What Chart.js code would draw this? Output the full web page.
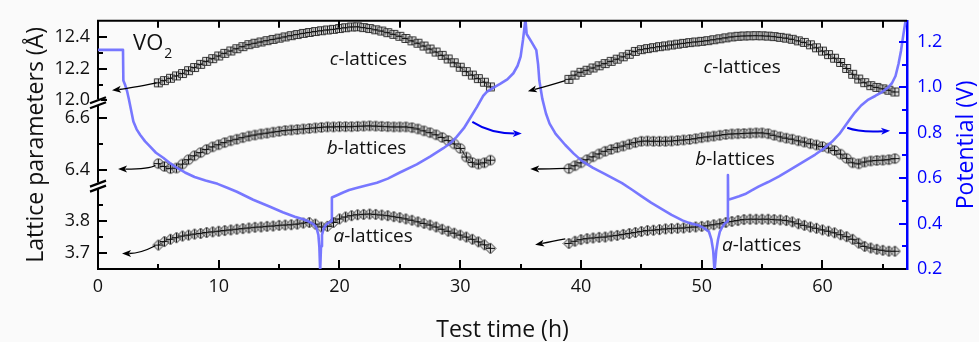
<!DOCTYPE html>
<html>
<head>
<meta charset="utf-8">
<script src="https://cdn.jsdelivr.net/npm/chart.js@4.4.1/dist/chart.umd.min.js"></script>
<style>
  html, body { margin: 0; padding: 0; background: #fafafa; }
</style>
</head>
<body>
<canvas id="lattice-chart" width="979" height="342"></canvas>
<script>
const BG = '#fafafa';

// measurement times (h) of the XRD patterns, one list per cycle
const cycle1Times = [
  5.0, 5.5, 6.0, 6.5, 7.0, 7.5, 8.0, 8.5, 9.0, 9.5,
  10.0, 10.5, 11.0, 11.5, 12.0, 12.5, 13.0, 13.5, 14.0, 14.5,
  15.0, 15.5, 16.0, 16.5, 17.0, 17.5, 18.0, 18.5, 19.0, 19.5,
  20.0, 20.5, 21.0, 21.5, 22.0, 22.5, 23.0, 23.5, 24.0, 24.5,
  25.0, 25.5, 26.0, 26.5, 27.0, 27.5, 28.0, 28.5, 29.0, 29.5,
  30.0, 30.5, 31.0, 31.5, 32.0, 32.5
];
const cycle2Times = [
  39.0, 39.5, 40.0, 40.5, 41.0, 41.5, 42.0, 42.5, 43.0, 43.5,
  44.0, 44.5, 45.0, 45.5, 46.0, 46.5, 47.0, 47.5, 48.0, 48.5,
  49.0, 49.5, 50.0, 50.5, 51.0, 51.5, 52.0, 52.5, 53.0, 53.5,
  54.0, 54.5, 55.0, 55.5, 56.0, 56.5, 57.0, 57.5, 58.0, 58.5,
  59.0, 59.5, 60.0, 60.5, 61.0, 61.5, 62.0, 62.5, 63.0, 63.5,
  64.0, 64.5, 65.0, 65.5, 66.0
];

// lattice parameters (Angstrom)
const cLattice1 = [
  12.111, 12.125, 12.140, 12.155, 12.170, 12.188, 12.208, 12.228, 12.247, 12.264,
  12.281, 12.298, 12.313, 12.327, 12.340, 12.353, 12.362, 12.370, 12.378, 12.386,
  12.394, 12.402, 12.410, 12.417, 12.424, 12.430, 12.436, 12.441, 12.446, 12.450,
  12.455, 12.460, 12.465, 12.466, 12.461, 12.455, 12.447, 12.439, 12.429, 12.418,
  12.406, 12.392, 12.377, 12.362, 12.344, 12.325, 12.306, 12.285, 12.262, 12.238,
  12.210, 12.182, 12.160, 12.138, 12.115, 12.085
];
const bLattice1 = [
  6.425, 6.414, 6.406, 6.408, 6.423, 6.440, 6.455, 6.467, 6.479, 6.489,
  6.497, 6.505, 6.512, 6.518, 6.524, 6.530, 6.534, 6.538, 6.541, 6.545,
  6.548, 6.551, 6.553, 6.555, 6.557, 6.559, 6.561, 6.563, 6.565, 6.565,
  6.566, 6.566, 6.566, 6.567, 6.568, 6.569, 6.568, 6.567, 6.566, 6.565,
  6.565, 6.565, 6.562, 6.557, 6.550, 6.543, 6.535, 6.525, 6.513, 6.500,
  6.483, 6.450, 6.429, 6.423, 6.428, 6.438
];
const aLattice1 = [
  3.725, 3.736, 3.743, 3.748, 3.753, 3.756, 3.759, 3.761, 3.764, 3.766,
  3.768, 3.770, 3.772, 3.774, 3.776, 3.778, 3.780, 3.781, 3.783, 3.784,
  3.786, 3.787, 3.788, 3.790, 3.793, 3.795, 3.790, 3.781, 3.783, 3.795,
  3.806, 3.812, 3.816, 3.819, 3.820, 3.821, 3.820, 3.818, 3.816, 3.813,
  3.810, 3.806, 3.802, 3.797, 3.792, 3.787, 3.781, 3.774, 3.768, 3.762,
  3.756, 3.750, 3.743, 3.735, 3.726, 3.715
];
const cLattice2 = [
  12.133, 12.160, 12.178, 12.191, 12.205, 12.219, 12.233, 12.247, 12.261, 12.276,
  12.292, 12.310, 12.321, 12.328, 12.334, 12.340, 12.345, 12.351, 12.356, 12.361,
  12.366, 12.370, 12.374, 12.378, 12.384, 12.390, 12.396, 12.402, 12.406, 12.408,
  12.409, 12.410, 12.409, 12.407, 12.404, 12.399, 12.394, 12.387, 12.377, 12.367,
  12.352, 12.333, 12.312, 12.290, 12.267, 12.240, 12.202, 12.165, 12.135, 12.112,
  12.093, 12.082, 12.073, 12.064, 12.053
];
const bLattice2 = [
  6.406, 6.417, 6.428, 6.440, 6.451, 6.462, 6.472, 6.479, 6.486, 6.492,
  6.499, 6.505, 6.510, 6.511, 6.510, 6.510, 6.510, 6.511, 6.513, 6.515,
  6.517, 6.520, 6.524, 6.527, 6.530, 6.533, 6.536, 6.538, 6.539, 6.540,
  6.541, 6.542, 6.542, 6.539, 6.533, 6.527, 6.522, 6.518, 6.512, 6.507,
  6.501, 6.496, 6.490, 6.484, 6.475, 6.461, 6.445, 6.428, 6.424, 6.431,
  6.435, 6.437, 6.438, 6.440, 6.444
];
const aLattice2 = [
  3.730, 3.737, 3.742, 3.745, 3.747, 3.749, 3.750, 3.753, 3.755, 3.758,
  3.761, 3.764, 3.767, 3.770, 3.771, 3.773, 3.775, 3.776, 3.777, 3.778,
  3.780, 3.781, 3.783, 3.785, 3.788, 3.791, 3.795, 3.798, 3.801, 3.804,
  3.805, 3.805, 3.805, 3.805, 3.804, 3.803, 3.801, 3.797, 3.791, 3.786,
  3.781, 3.777, 3.772, 3.768, 3.763, 3.757, 3.751, 3.743, 3.731, 3.721,
  3.716, 3.712, 3.709, 3.706, 3.706
];

// cell potential (V) vs time (h)
const potentialTime = [
  0, 2.07, 2.1, 2.25, 2.4, 2.55, 2.7, 2.93, 3.2, 3.5,
  3.9, 4.3, 4.8, 5.4, 6.0, 6.5, 7.2, 8.0, 8.9, 9.9,
  10.7, 11.5, 12.85, 14.2, 15.3, 16.3, 17.0, 17.5, 17.9, 18.1,
  18.25, 18.33, 18.4, 18.47, 18.55, 18.7, 18.9, 19.1, 19.35, 19.37,
  19.8, 20.3, 20.8, 21.4, 22.2, 23.1, 24.0, 25.0, 26.4, 27.5,
  28.6, 29.2, 29.7, 30.3, 30.8, 31.4, 31.9, 32.2, 32.5, 32.9,
  33.3, 33.9, 34.4, 34.75, 35.0, 35.2, 35.4, 35.5, 35.9, 36.3,
  36.45, 36.55, 36.8, 37.1, 37.4, 37.9, 38.7, 39.4, 40.1, 41.0,
  42.0, 42.7, 43.4, 44.2, 45.0, 45.8, 46.7, 47.5, 48.4, 49.0,
  49.7, 50.2, 50.6, 50.8, 50.95, 51.06, 51.2, 51.35, 51.5, 51.7,
  51.9, 52.15, 52.17, 52.19, 52.6, 53.1, 53.6, 54.1, 54.7, 55.5,
  56.4, 57.2, 58.3, 59.4, 60.1, 60.8, 61.4, 61.9, 62.3, 62.7,
  63.2, 63.8, 64.4, 64.9, 65.4, 65.75, 66.05, 66.3, 66.5, 66.7,
  66.9
];
const potentialVolts = [
  1.165, 1.165, 1.03, 1.01, 0.985, 0.95, 0.91, 0.85, 0.815, 0.79,
  0.762, 0.74, 0.712, 0.69, 0.665, 0.647, 0.625, 0.605, 0.59, 0.575,
  0.558, 0.54, 0.505, 0.475, 0.45, 0.43, 0.419, 0.408, 0.395, 0.38,
  0.35, 0.30, 0.19, 0.30, 0.35, 0.38, 0.395, 0.404, 0.41, 0.515,
  0.525, 0.537, 0.548, 0.557, 0.568, 0.58, 0.598, 0.625, 0.661, 0.695,
  0.732, 0.755, 0.782, 0.82, 0.863, 0.915, 0.962, 0.98, 0.99, 1.003,
  1.015, 1.035, 1.062, 1.095, 1.135, 1.21, 1.30, 1.235, 1.2, 1.164,
  1.10, 1.03, 0.949, 0.885, 0.84, 0.795, 0.746, 0.708, 0.675, 0.645,
  0.618, 0.598, 0.578, 0.55, 0.521, 0.492, 0.464, 0.438, 0.414, 0.402,
  0.393, 0.38, 0.364, 0.33, 0.28, 0.19, 0.28, 0.33, 0.364, 0.385,
  0.40, 0.41, 0.614, 0.505, 0.512, 0.52, 0.53, 0.545, 0.563, 0.583,
  0.608, 0.633, 0.668, 0.704, 0.73, 0.761, 0.795, 0.832, 0.862, 0.890,
  0.92, 0.946, 0.963, 0.978, 0.998, 1.018, 1.05, 1.104, 1.16, 1.232,
  1.30
];

// tick values
const xMajorTicks = [0, 10, 20, 30, 40, 50, 60];
const xMinorTicks = [5, 15, 25, 35, 45, 55, 65];
const cTicks = [12.0, 12.2, 12.4];
const cMinorTicks = [12.1, 12.3];
const bTicks = [6.4, 6.6];
const bMinorTicks = [6.5];
const aTicks = [3.7, 3.8];
const aMinorTicks = [3.75, 3.85];
const vTicks = [0.2, 0.4, 0.6, 0.8, 1.0, 1.2];
const vMinorTicks = [0.3, 0.5, 0.7, 0.9, 1.1];

// annotations, in data units of the given axis
const arrows = [
  {axis: 'yc', from: [4.85, 12.11], ctrl: [2.65, 12.076], to: [1.16, 12.064], color: '#000', width: 1.3},
  {axis: 'yb', from: [4.75, 6.419], ctrl: [4.3, 6.404], to: [1.66, 6.404], color: '#000', width: 1.3},
  {axis: 'ya', from: [4.75, 3.723], ctrl: [3.5, 3.699], to: [1.99, 3.699], color: '#000', width: 1.3},
  {axis: 'yc', from: [38.7, 12.125], ctrl: [37.2, 12.09], to: [35.6, 12.058], color: '#000', width: 1.3},
  {axis: 'yb', from: [38.7, 6.407], ctrl: [37.2, 6.405], to: [35.8, 6.404], color: '#000', width: 1.3},
  {axis: 'ya', from: [38.7, 3.744], ctrl: [37.5, 3.735], to: [36.2, 3.726], color: '#000', width: 1.3},
  {axis: 'yV', from: [31.0, 0.848], ctrl: [32.5, 0.797], to: [35.1, 0.797], color: '#0000ee', width: 2},
  {axis: 'yV', from: [62.05, 0.822], ctrl: [63.1, 0.801], to: [65.6, 0.809], color: '#0000ee', width: 2}
];
const notes = [
  {axis: 'yc', x: 19.2, y: 12.223, lead: 'c', rest: '-lattices'},
  {axis: 'yb', x: 18.95, y: 6.460, lead: 'b', rest: '-lattices'},
  {axis: 'ya', x: 19.5, y: 3.735, lead: 'a', rest: '-lattices'},
  {axis: 'yc', x: 50.15, y: 12.176, lead: 'c', rest: '-lattices'},
  {axis: 'yb', x: 49.46, y: 6.420, lead: 'b', rest: '-lattices'},
  {axis: 'ya', x: 51.67, y: 3.708, lead: 'a', rest: '-lattices'}
];

function series(times, values) {
  return times.map((t, i) => ({x: t, y: values[i]}));
}

function marker(kind) {
  const c = document.createElement('canvas');
  c.width = 13; c.height = 13;
  const g = c.getContext('2d');
  g.lineWidth = 1;
  g.strokeStyle = '#383838';
  g.fillStyle = 'rgba(185,185,185,0.5)';
  g.beginPath();
  if (kind === 'square') {
    g.rect(2.5, 2.5, 8, 8);
  } else if (kind === 'circle') {
    g.arc(6.5, 6.5, 4.7, 0, Math.PI * 2);
  } else {
    g.moveTo(6.5, 1); g.lineTo(12, 6.5); g.lineTo(6.5, 12); g.lineTo(1, 6.5); g.closePath();
  }
  g.fill();
  g.stroke();
  g.strokeStyle = '#111';
  g.beginPath();
  const r = kind === 'square' ? 4 : 4.5;
  g.moveTo(6.5, 6.5 - r); g.lineTo(6.5, 6.5 + r);
  g.moveTo(6.5 - r, 6.5); g.lineTo(6.5 + r, 6.5);
  g.stroke();
  return c;
}

const squareMark = marker('square');
const circleMark = marker('circle');
const diamondMark = marker('diamond');

function latticeSet(times, values, axis, mark) {
  return {
    data: series(times, values),
    yAxisID: axis,
    borderColor: '#000',
    borderWidth: 1.2,
    tension: 0.4,
    pointStyle: mark,
    pointRadius: 4,
    order: 2
  };
}

const tickFont = {family: 'Open Sans', size: 18};

function leftAxis(min, max, ticks, weight, stackWeight) {
  return {
    type: 'linear', position: 'left', stack: 'lattice', stackWeight: stackWeight, weight: weight,
    min: min, max: max,
    afterBuildTicks: s => { s.ticks = ticks.map(v => ({value: v})); },
    afterFit: s => { s.width = 98; },
    grid: {display: false, drawTicks: false},
    border: {display: true, color: '#000', width: 2},
    ticks: {font: tickFont, color: '#111', padding: 8, callback: v => v.toFixed(1)}
  };
}

const decor = {
  id: 'decor',
  afterDatasetsDraw(chart) {
    const {ctx, chartArea: area, scales} = chart;
    const x = scales.x;
    ctx.save();

    // top frame
    ctx.strokeStyle = '#000';
    ctx.lineWidth = 2;
    ctx.beginPath();
    ctx.moveTo(area.left - 1, area.top);
    ctx.lineTo(area.right, area.top);
    ctx.stroke();

    // inward tick marks
    const mark = (x1, y1, x2, y2) => { ctx.beginPath(); ctx.moveTo(x1, y1); ctx.lineTo(x2, y2); ctx.stroke(); };
    ctx.strokeStyle = '#000';
    xMajorTicks.concat(xMinorTicks).forEach(v => {
      const p = Math.round(x.getPixelForValue(v));
      if (p <= area.left + 1) return;
      const len = xMajorTicks.includes(v) ? 9 : 5;
      mark(p, area.bottom, p, area.bottom - len);
      mark(p, area.top, p, area.top + 7);
    });
    [[scales.yc, cTicks, cMinorTicks], [scales.yb, bTicks, bMinorTicks], [scales.ya, aTicks, aMinorTicks]]
      .forEach(([s, major, minor]) => {
        major.forEach(v => { const p = Math.round(s.getPixelForValue(v)); mark(area.left, p, area.left + 9, p); });
        minor.forEach(v => { const p = Math.round(s.getPixelForValue(v)); mark(area.left, p, area.left + 5, p); });
      });
    ctx.strokeStyle = '#0000ff';
    vTicks.forEach(v => { const p = Math.round(scales.yV.getPixelForValue(v)); if (p < area.bottom - 1) mark(area.right, p, area.right - 8, p); });
    vMinorTicks.forEach(v => { const p = Math.round(scales.yV.getPixelForValue(v)); mark(area.right, p, area.right - 5, p); });

    // axis breaks
    [scales.yc.bottom, scales.yb.bottom].forEach(yb => {
      ctx.fillStyle = BG;
      ctx.fillRect(area.left - 3, yb - 3, 6, 6);
      ctx.strokeStyle = '#000';
      ctx.lineWidth = 2.2;
      mark(area.left - 8, yb + 1, area.left + 8, yb - 5);
      mark(area.left - 8, yb + 6, area.left + 8, yb);
    });

    // arrows
    arrows.forEach(a => {
      const ys = scales[a.axis];
      const p0 = [x.getPixelForValue(a.from[0]), ys.getPixelForValue(a.from[1])];
      const pc = [x.getPixelForValue(a.ctrl[0]), ys.getPixelForValue(a.ctrl[1])];
      const p1 = [x.getPixelForValue(a.to[0]), ys.getPixelForValue(a.to[1])];
      const ang = Math.atan2(p1[1] - pc[1], p1[0] - pc[0]);
      const head = 9, half = 3.5;
      const base = [p1[0] - Math.cos(ang) * head * 0.8, p1[1] - Math.sin(ang) * head * 0.8];
      ctx.strokeStyle = a.color;
      ctx.fillStyle = a.color;
      ctx.lineWidth = a.width;
      ctx.beginPath();
      ctx.moveTo(p0[0], p0[1]);
      ctx.quadraticCurveTo(pc[0], pc[1], base[0], base[1]);
      ctx.stroke();
      ctx.beginPath();
      ctx.moveTo(p1[0], p1[1]);
      ctx.lineTo(p1[0] - Math.cos(ang) * head + Math.sin(ang) * half, p1[1] - Math.sin(ang) * head - Math.cos(ang) * half);
      ctx.lineTo(p1[0] - Math.cos(ang) * head * 0.75, p1[1] - Math.sin(ang) * head * 0.75);
      ctx.lineTo(p1[0] - Math.cos(ang) * head - Math.sin(ang) * half, p1[1] - Math.sin(ang) * head + Math.cos(ang) * half);
      ctx.closePath();
      ctx.fill();
    });

    // series labels
    ctx.fillStyle = '#111';
    ctx.textBaseline = 'alphabetic';
    ctx.textAlign = 'left';
    notes.forEach(n => {
      const px = x.getPixelForValue(n.x);
      const py = scales[n.axis].getPixelForValue(n.y);
      ctx.font = 'italic 19px "Open Sans"';
      ctx.fillText(n.lead, px, py);
      const w = ctx.measureText(n.lead).width;
      ctx.font = '19px "Open Sans"';
      ctx.fillText(n.rest, px + w, py);
    });

    // compound name
    const vx = x.getPixelForValue(2.9);
    const vy = scales.yc.getPixelForValue(12.319);
    ctx.font = '22px "Open Sans"';
    ctx.fillText('VO', vx, vy);
    const vw = ctx.measureText('VO').width;
    ctx.font = '14px "Open Sans"';
    ctx.fillText('2', vx + vw + 1, vy + 8);

    // axis titles
    ctx.font = '23px "Open Sans"';
    ctx.textAlign = 'center';
    ctx.fillText('Test time (h)', (area.left + area.right) / 2, 337);
    const midY = (area.top + area.bottom) / 2;
    ctx.save();
    ctx.translate(43, midY);
    ctx.rotate(-Math.PI / 2);
    ctx.fillText('Lattice parameters (Å)', 0, 0);
    ctx.restore();
    ctx.save();
    ctx.translate(973, midY);
    ctx.rotate(-Math.PI / 2);
    ctx.fillStyle = '#0000ff';
    ctx.fillText('Potential (V)', 0, 0);
    ctx.restore();

    ctx.restore();
  }
};

new Chart(document.getElementById('lattice-chart'), {
  type: 'line',
  data: {
    datasets: [
      {
        data: series(potentialTime, potentialVolts),
        yAxisID: 'yV',
        borderColor: 'rgba(112,112,255,0.95)',
        borderWidth: 2.6,
        borderJoinStyle: 'round',
        pointRadius: 0,
        tension: 0,
        order: 1
      },
      latticeSet(cycle1Times, cLattice1, 'yc', squareMark),
      latticeSet(cycle2Times, cLattice2, 'yc', squareMark),
      latticeSet(cycle1Times, bLattice1, 'yb', circleMark),
      latticeSet(cycle2Times, bLattice2, 'yb', circleMark),
      latticeSet(cycle1Times, aLattice1, 'ya', diamondMark),
      latticeSet(cycle2Times, aLattice2, 'ya', diamondMark)
    ]
  },
  options: {
    responsive: false,
    animation: false,
    layout: {padding: {top: 13, left: 0, right: 0, bottom: 0}},
    plugins: {legend: {display: false}, tooltip: {enabled: false}},
    scales: {
      x: {
        type: 'linear', position: 'bottom', min: 0, max: 67,
        afterBuildTicks: s => { s.ticks = xMajorTicks.map(v => ({value: v})); },
        afterFit: s => { s.height = 73; },
        grid: {display: false, drawTicks: false},
        border: {display: true, color: '#000', width: 2},
        ticks: {font: tickFont, color: '#111', padding: 7, maxRotation: 0, autoSkip: false}
      },
      yc: leftAxis(11.988, 12.504, cTicks, 3, 84),
      yb: leftAxis(6.341, 6.659, bTicks, 2, 86),
      ya: leftAxis(3.651, 3.909, aTicks, 1, 86),
      yV: {
        type: 'linear', position: 'right', min: 0.2, max: 1.293,
        afterBuildTicks: s => { s.ticks = vTicks.map(v => ({value: v})); },
        afterFit: s => { s.width = 72; },
        grid: {display: false, drawTicks: false},
        border: {display: true, color: '#0000ff', width: 2.5},
        ticks: {font: tickFont, color: '#0000ff', padding: 10, callback: v => v.toFixed(1)}
      }
    }
  },
  plugins: [decor]
});
</script>
</body>
</html>
